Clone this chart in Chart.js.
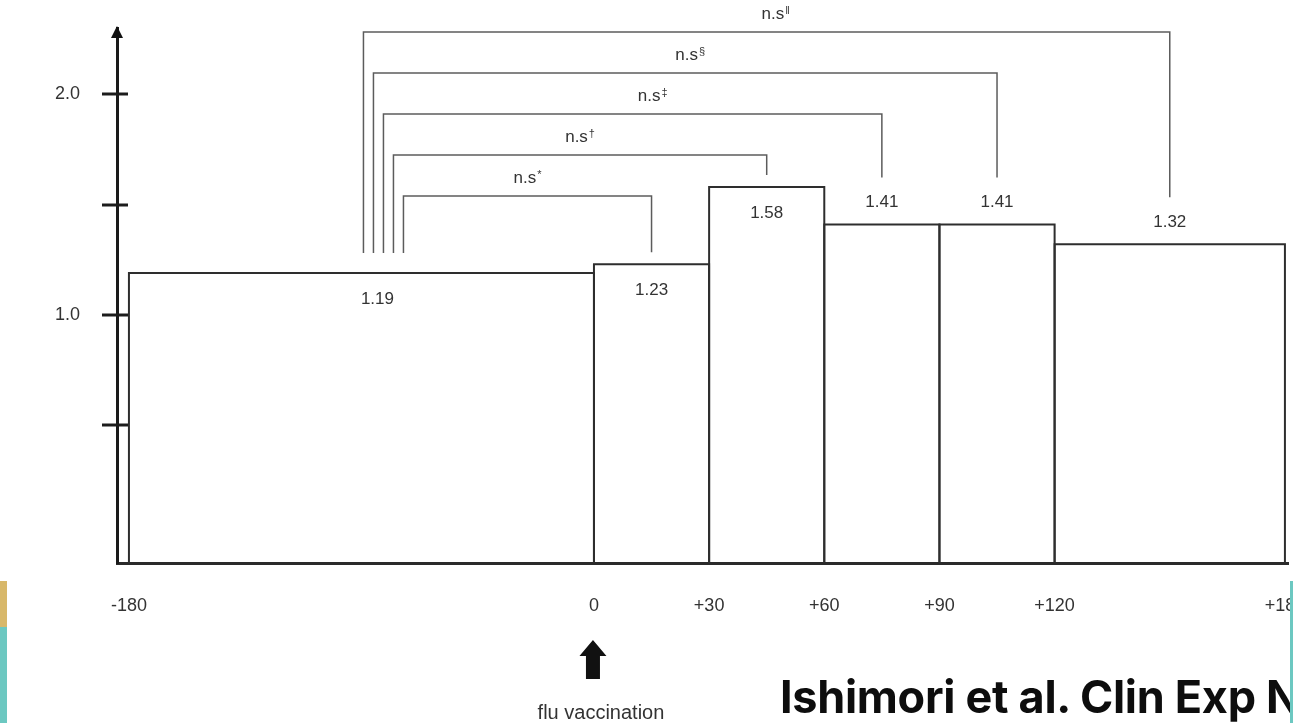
<!DOCTYPE html>
<html>
<head>
<meta charset="utf-8">
<title>Relative ratio before and after flu vaccination</title>
<script src="https://cdn.jsdelivr.net/npm/chart.js@4.4.1/dist/chart.umd.min.js"></script>
<style>
  html, body { margin: 0; padding: 0; background: #fff; overflow: hidden; }
  #wrap { position: relative; width: 1293px; height: 723px; overflow: hidden; }
  #chart { position: absolute; left: 0; top: 0; }
  .cite {
    position: absolute; left: 780px; top: 674px;
    font: 700 45px/45px Inter, Roboto, "Noto Sans", sans-serif;
    color: #0d0d0d; white-space: nowrap; letter-spacing: -0.3px;
  }
  .strip { position: absolute; }
</style>
</head>
<body>
<div id="wrap">
  <canvas id="chart" width="1293" height="723"></canvas>
  <div class="cite">Ishimori et al. Clin Exp N</div>
  <div class="strip" style="left:0;top:581px;width:7px;height:46px;background:#d8b86a;"></div>
  <div class="strip" style="left:0;top:627px;width:7px;height:96px;background:#6cc8c1;"></div>
  <div class="strip" style="left:1290px;top:581px;width:3px;height:142px;background:#6cc8c1;"></div>
</div>
<script>
// Periods in days relative to the flu vaccination (day 0)
const periodStart = [-180, 0, 30, 60, 90, 120];
const periodEnd   = [0, 30, 60, 90, 120, 180];
// Ratio observed in each period
const ratioValues = [1.19, 1.23, 1.58, 1.41, 1.41, 1.32];

// Axis ticks
const tickDays    = [-180, 0, 30, 60, 90, 120, 180];
const tickLabels  = ['-180', '0', '+30', '+60', '+90', '+120', '+180'];
const yTickValues = [0.5, 1.0, 1.5, 2.0];
const yTickLabels = ['', '1.0', '', '2.0'];

// Pre-vaccination period compared with each later period
const compareTo   = [1, 2, 3, 4, 5];
const compareText = ['n.s', 'n.s', 'n.s', 'n.s', 'n.s'];
const compareMark = ['*', '\u2020', '\u2021', '\u00a7', '\u2016'];

// ---- display settings ----
const PRE_COMPRESS = 0.673;           // the 180 pre-vaccination days get a shorter stretch of axis
const axisPos = d => (d < 0 ? d * PRE_COMPRESS : d);
const X_MIN = -124.25, X_MAX = 180.8;
const Y_MIN = -0.124, Y_MAX = 2.3;
const LABELS_INSIDE = 3;              // first bars carry their value inside the box
const BRACKET_LABEL_NUDGE = [0, 0, 20, 5, 9];
const FONT = '"Liberation Sans", Arial, Helvetica, sans-serif';
const TEXT = '#333333';

// each period is drawn as an outlined box from the axis floor up to its ratio
const datasets = ratioValues.map((v, i) => {
  const x0 = axisPos(periodStart[i]);
  const x1 = axisPos(periodEnd[i]);
  return {
    label: `${periodStart[i]} to ${periodEnd[i]}`,
    data: [{ x: x0, y: Y_MIN }, { x: x0, y: v }, { x: x1, y: v }, { x: x1, y: Y_MIN }],
    showLine: true,
    borderColor: '#2e2e2e',
    borderWidth: 2,
    pointRadius: 0,
    fill: false,
    tension: 0
  };
});

const annotate = {
  id: 'annotate',
  afterDatasetsDraw(chart) {
    const { ctx, chartArea: area, scales: { x, y } } = chart;
    const barTop = i => y.getPixelForValue(ratioValues[i]);
    const barMid = i => x.getPixelForValue(axisPos((periodStart[i] + periodEnd[i]) / 2));
    const legAnchor = barMid(0) + 22;

    ctx.save();

    // y tick marks crossing the axis line
    ctx.strokeStyle = '#1c1c1c';
    ctx.lineWidth = 3;
    y.ticks.forEach(t => {
      const py = Math.round(y.getPixelForValue(t.value));
      ctx.beginPath();
      ctx.moveTo(area.left - 15, py);
      ctx.lineTo(area.left + 11, py);
      ctx.stroke();
    });

    // arrow head on top of the y axis
    ctx.fillStyle = '#111';
    ctx.beginPath();
    ctx.moveTo(area.left, area.top - 2);
    ctx.lineTo(area.left - 6, area.top + 10);
    ctx.lineTo(area.left + 6, area.top + 10);
    ctx.closePath();
    ctx.fill();

    // value labels
    ctx.font = `17px ${FONT}`;
    ctx.fillStyle = TEXT;
    ctx.textAlign = 'center';
    ctx.textBaseline = 'middle';
    const labelY = [];
    ratioValues.forEach((v, i) => {
      const inside = i < LABELS_INSIDE;
      const lx = i === 0 ? legAnchor - 6 : barMid(i);
      const ly = inside ? barTop(i) + 26 : barTop(i) - 22;
      labelY.push(ly);
      ctx.fillText(v.toFixed(2), lx, ly);
    });

    // comparison brackets
    const n = compareTo.length;
    compareTo.forEach((j, k) => {
      const top = area.top + 4 + (n - 1 - k) * 41;
      const lx = legAnchor + ((n - 1) / 2 - k) * 10;
      const rx = barMid(j);
      const lBottom = barTop(0) - 20;
      const rBottom = j < LABELS_INSIDE ? barTop(j) - 12 : labelY[j] - 25;
      ctx.strokeStyle = '#5c5c5c';
      ctx.lineWidth = 1.5;
      ctx.beginPath();
      ctx.moveTo(lx, lBottom);
      ctx.lineTo(lx, top);
      ctx.lineTo(rx, top);
      ctx.lineTo(rx, rBottom);
      ctx.stroke();

      ctx.textBaseline = 'alphabetic';
      ctx.textAlign = 'left';
      ctx.font = `17px ${FONT}`;
      const w1 = ctx.measureText(compareText[k]).width;
      ctx.font = `11px ${FONT}`;
      const w2 = ctx.measureText(compareMark[k]).width;
      const sx = (lx + rx) / 2 + BRACKET_LABEL_NUDGE[k] - (w1 + w2 + 1) / 2;
      ctx.font = `17px ${FONT}`;
      ctx.fillText(compareText[k], sx, top - 13);
      ctx.font = `11px ${FONT}`;
      ctx.fillText(compareMark[k], sx + w1 + 1, top - 18);
    });

    // vaccination marker under day 0
    const px = x.getPixelForValue(0) - 1;
    const b = area.bottom;
    ctx.fillStyle = '#111';
    ctx.beginPath();
    ctx.moveTo(px, b + 77);
    ctx.lineTo(px + 13.5, b + 93);
    ctx.lineTo(px + 7, b + 93);
    ctx.lineTo(px + 7, b + 116);
    ctx.lineTo(px - 7, b + 116);
    ctx.lineTo(px - 7, b + 93);
    ctx.lineTo(px - 13.5, b + 93);
    ctx.closePath();
    ctx.fill();
    ctx.font = `20px ${FONT}`;
    ctx.fillStyle = TEXT;
    ctx.textAlign = 'center';
    ctx.textBaseline = 'middle';
    ctx.fillText('flu vaccination', px + 8, b + 150);

    ctx.restore();
  }
};

new Chart(document.getElementById('chart'), {
  type: 'scatter',
  data: { datasets },
  plugins: [annotate],
  options: {
    responsive: false,
    animation: false,
    events: [],
    layout: { padding: { left: 0, right: 5, top: 28, bottom: 0 } },
    plugins: { legend: { display: false }, tooltip: { enabled: false } },
    scales: {
      x: {
        type: 'linear',
        min: X_MIN,
        max: X_MAX,
        grid: { display: false, drawTicks: false },
        border: { display: true, color: '#2a2a2a', width: 3 },
        afterBuildTicks: s => { s.ticks = tickDays.map(d => ({ value: axisPos(d) })); },
        ticks: {
          autoSkip: false,
          maxRotation: 0,
          padding: 32,
          color: TEXT,
          font: { family: FONT, size: 18 },
          callback: (v, i) => tickLabels[i]
        },
        afterFit: s => { s.height = 160; s.paddingLeft = 0; s.paddingRight = 0; }
      },
      y: {
        type: 'linear',
        min: Y_MIN,
        max: Y_MAX,
        grid: { display: false, drawTicks: false },
        border: { display: true, color: '#1a1a1a', width: 3 },
        afterBuildTicks: s => { s.ticks = yTickValues.map(v => ({ value: v })); },
        ticks: {
          padding: 37,
          color: TEXT,
          font: { family: FONT, size: 18 },
          callback: (v, i) => yTickLabels[i]
        },
        afterFit: s => { s.width = 117; s.paddingTop = 0; s.paddingBottom = 0; }
      }
    }
  }
});
</script>
</body>
</html>
